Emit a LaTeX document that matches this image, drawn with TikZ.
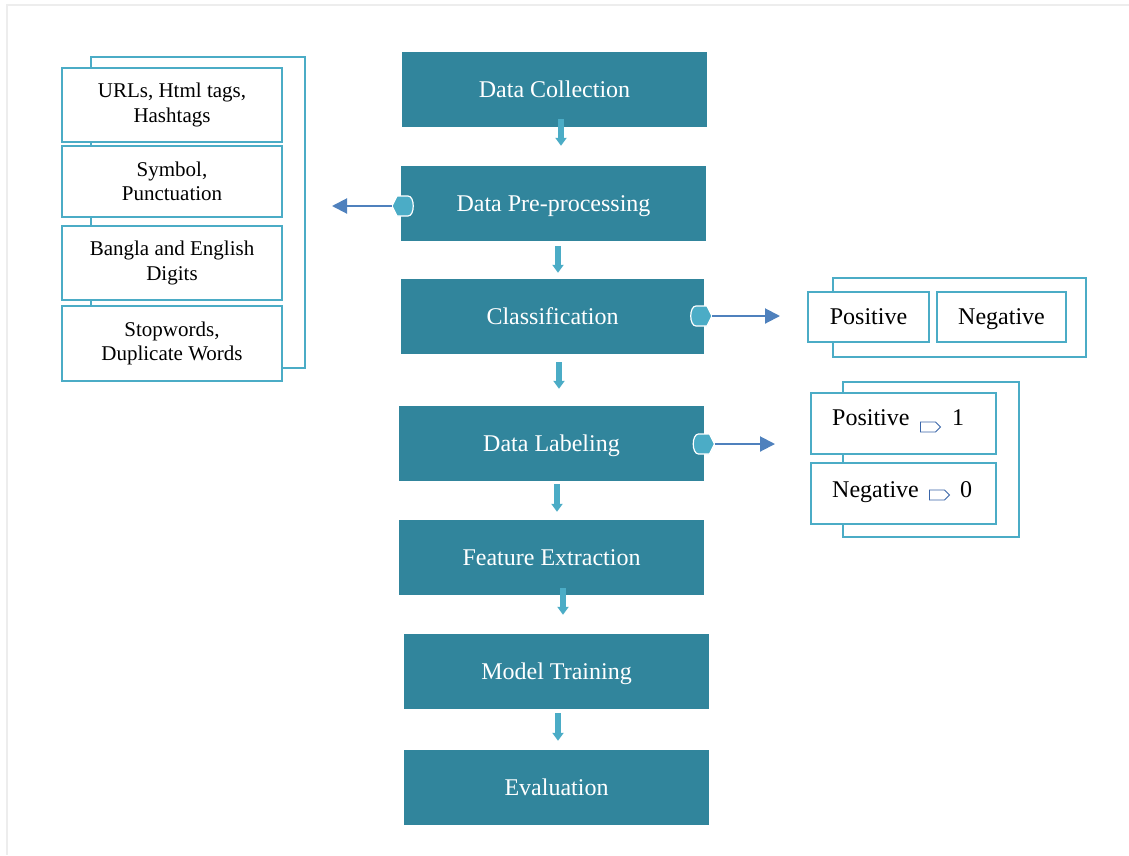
\documentclass[tikz,border=0pt]{standalone}
\usepackage{fontspec}
\setmainfont{Liberation Serif}
\usetikzlibrary{arrows.meta,shapes.symbols}

\definecolor{tealbox}{RGB}{49,133,156}
\definecolor{aqua}{RGB}{75,172,198}
\definecolor{linkblue}{RGB}{79,129,189}
\definecolor{tagblue}{RGB}{58,101,168}

\tikzset{
	x=1pt, y=-1pt,
	stage/.style={fill=tealbox, text=white, inner sep=0pt, minimum width=305pt, minimum height=75pt, text height=17pt, text depth=2pt, font=\fontsize{24}{28}\selectfont},
	backframe/.style={draw=aqua, fill=white, line width=2pt, inner sep=0pt},
	item/.style={draw=aqua, fill=white, line width=2pt, inner sep=0pt, align=center, font=\fontsize{21}{24.5}\selectfont},
	word/.style={item, text height=17pt, text depth=2pt, font=\fontsize{24}{28}\selectfont},
	label/.style={inner sep=0pt, font=\fontsize{24}{28}\selectfont},
	flow/.style={draw=aqua, line width=6pt, -{Triangle[width=11pt,length=8pt]}},
	link/.style={draw=linkblue, line width=2pt, -{Triangle[width=15pt,length=15pt]}},
	tag/.style={signal, signal to=east, draw=tagblue, fill=white, line width=0.8pt, inner sep=0pt, minimum width=20pt, minimum height=10pt},
	plug/.pic={
		\draw[line width=1.2pt, draw=white, fill=aqua] (-11,0) -- (-6,-10) -- (5,-10) .. controls (12,-10) and (12,10) .. (5,10) -- (-6,10) -- cycle;
		\coordinate (-tip) at (-11,0);
	}
}

\begin{document}
\begin{tikzpicture}
		%%%%% START %%%%%
		\useasboundingbox (0,0) rectangle (1129,855);
		\draw[line width=1.5pt, color=black!7] (7,855) -- (7,5) -- (1129,5);
		
		% main pipeline
		\node[stage] (dc) at (554.5,89.5) {Data Collection};
		\node[stage] (pp) at (553.5,203.5) {Data Pre-processing};
		\node[stage, minimum width=303pt] (cls) at (552.5,316.5) {Classification};
		\node[stage] (lbl) at (551.5,443.5) {Data Labeling};
		\node[stage] (fe) at (551.5,557.5) {Feature Extraction};
		\node[stage] (mt) at (556.5,671.5) {Model Training};
		\node[stage] (ev) at (556.5,787.5) {Evaluation};
		
		\draw[flow, shorten <=-8pt, shorten >=20pt] ([xshift=6.5pt]dc.south) -- ([xshift=6.5pt]dc.south |- pp.north);
		\draw[flow, shorten <=5pt, shorten >=6pt] ([xshift=4.5pt]pp.south) -- ([xshift=4.5pt]pp.south |- cls.north);
		\draw[flow, shorten <=8pt, shorten >=17pt] ([xshift=6.5pt]cls.south) -- ([xshift=6.5pt]cls.south |- lbl.north);
		\draw[flow, shorten <=3pt, shorten >=8pt] ([xshift=5.5pt]lbl.south) -- ([xshift=5.5pt]lbl.south |- fe.north);
		\draw[flow, shorten <=-7pt, shorten >=19pt] ([xshift=11.5pt]fe.south) -- ([xshift=11.5pt]fe.south |- mt.north);
		\draw[flow, shorten <=4pt, shorten >=9pt] ([xshift=1.5pt]mt.south) -- ([xshift=1.5pt]mt.south |- ev.north);
		
		% cleaning steps
		\node[backframe, minimum width=214pt, minimum height=311pt] (clean) at (198,212.5) {};
		\node[item, minimum width=220pt, minimum height=74pt] (urls) at (172,105) {URLs, Html tags,\\Hashtags};
		\node[item, minimum width=220pt, minimum height=71pt] (sym) at (172,181.5) {Symbol,\\Punctuation};
		\node[item, minimum width=220pt, minimum height=74pt] (dig) at (172,263) {Bangla and English\\Digits};
		\node[item, minimum width=220pt, minimum height=75pt] (stop) at (172,343.5) {Stopwords,\\Duplicate Words};
		
		\pic (ppplug) at (403,206) {plug};
		\draw[link, shorten >=26pt] (ppplug-tip) -- (ppplug-tip -| clean.east);
		
		% classes
		\node[backframe, minimum width=253pt, minimum height=79pt] (classes) at (959.5,317.5) {};
		\node[word, minimum width=121pt, minimum height=50pt] (posA) at (868.5,317) {Positive};
		\node[word, minimum width=129pt, minimum height=50pt] (negA) at (1001.5,317) {Negative};
		
		\pic[xscale=-1] (clsplug) at (701,316) {plug};
		\draw[link, shorten >=27pt] (clsplug-tip) -- (clsplug-tip -| posA.west);
		
		% labels
		\node[backframe, minimum width=176pt, minimum height=155pt] (labels) at (931,459.5) {};
		\node[item, minimum width=185pt, minimum height=61pt] (posB) at (903.5,423.5) {};
		\node[item, minimum width=185pt, minimum height=61pt] (negB) at (903.5,493.5) {};
		\node[label, anchor=base west] (posword) at (832,425) {Positive};
		\node[tag] (postag) at (928,427) {};
		\node[label, anchor=base west] (posval) at (952,425) {1};
		\node[label, anchor=base west] (negword) at (832,497) {Negative};
		\node[tag] (negtag) at (937,495) {};
		\node[label, anchor=base west] (negval) at (960,497) {0};
		
		\pic[xscale=-1] (lblplug) at (703.5,444) {plug};
		\draw[link, shorten >=35pt] (lblplug-tip) -- (lblplug-tip -| posB.west);
		
		%%%%% END %%%%%
	\end{tikzpicture}
\end{document}
